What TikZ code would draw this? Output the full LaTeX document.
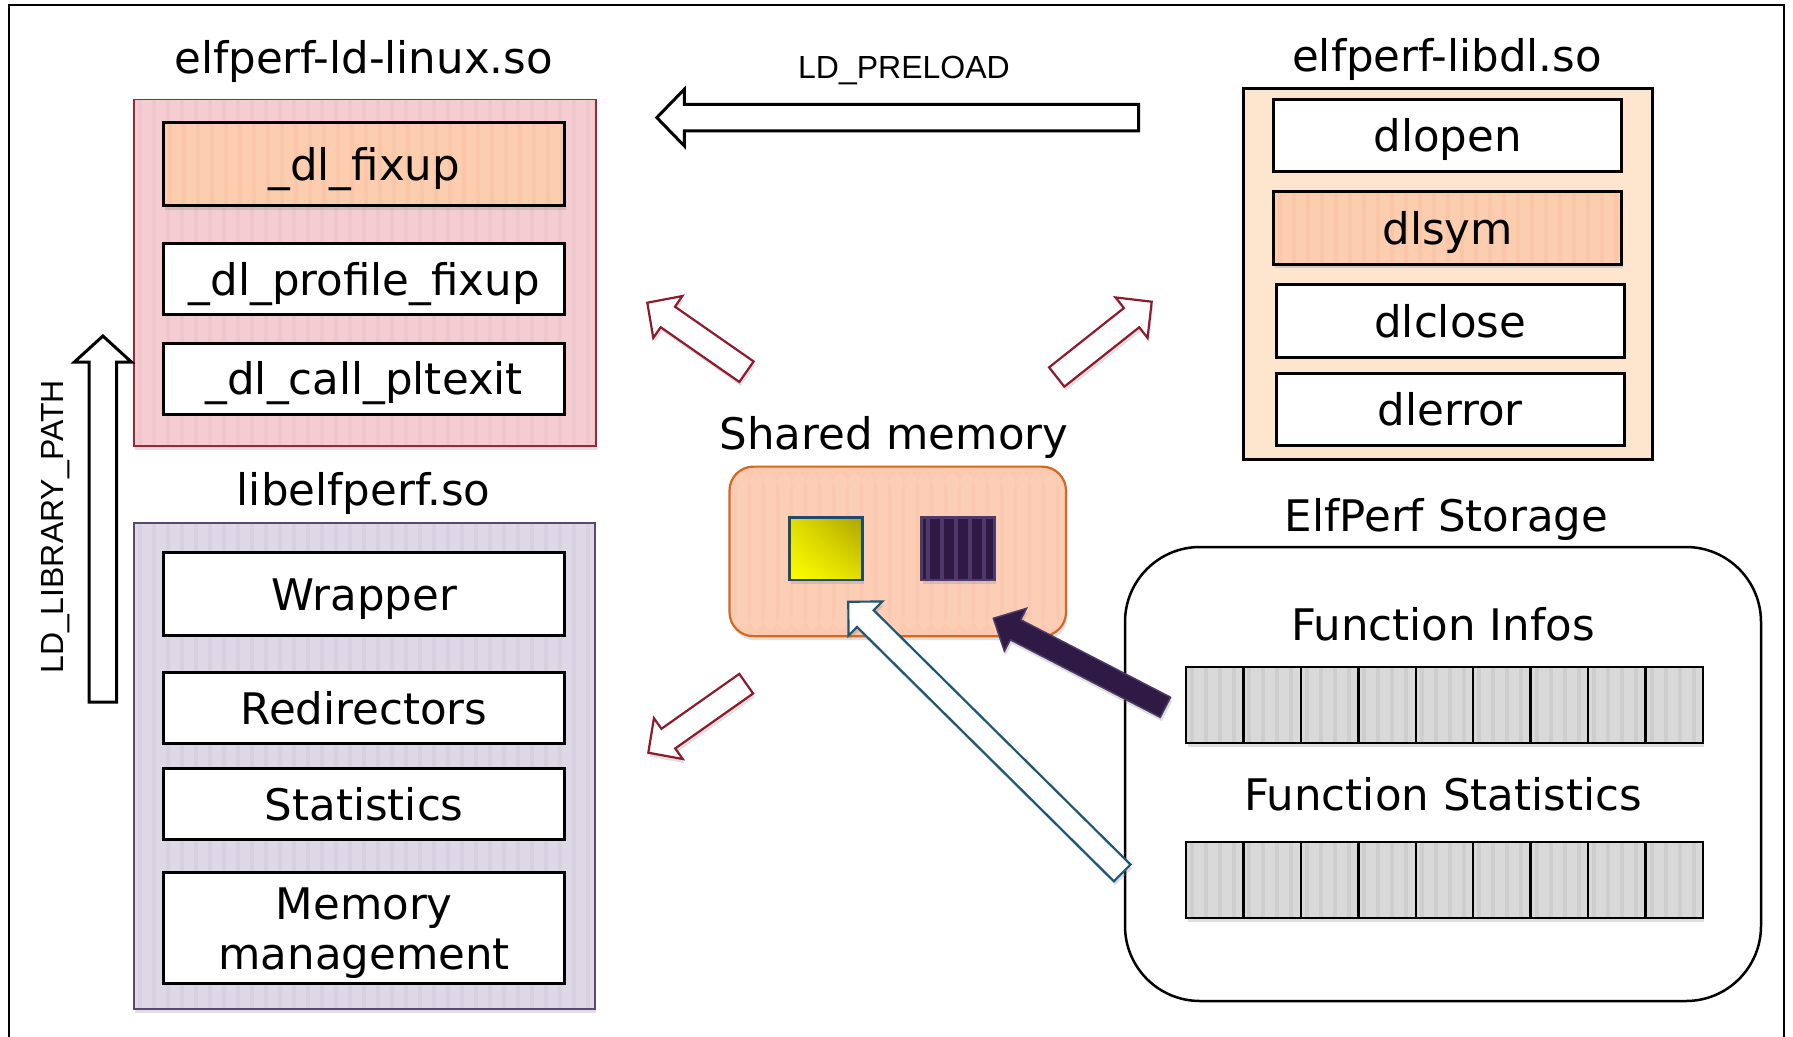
\documentclass[tikz,border=0pt]{standalone}
\usepackage{fontspec}
\setmainfont{DejaVu Sans}
\newfontfamily\labfont{Liberation Sans}
\usetikzlibrary{calc,shadows,shadings}

\definecolor{redfill}{HTML}{F3CDD2}
\definecolor{redstripe}{HTML}{EFC6CC}
\definecolor{redborder}{HTML}{9A2636}
\definecolor{peach}{HTML}{FCCDAF}
\definecolor{peachstripe}{HTML}{F9C7A8}
\definecolor{purfill}{HTML}{DED7E5}
\definecolor{purstripe}{HTML}{D8D0E1}
\definecolor{purborder}{HTML}{5A4870}
\definecolor{libdlfill}{HTML}{FDE5CE}
\definecolor{shmfill}{HTML}{FDCEB6}
\definecolor{shmstripe}{HTML}{FBC9B0}
\definecolor{shmborder}{HTML}{D2691E}
\definecolor{darkpur}{HTML}{2E1A45}
\definecolor{purline}{HTML}{4E3A68}
\definecolor{cellfill}{HTML}{D9D9D9}
\definecolor{cellstripe}{HTML}{CECECE}
\definecolor{arrowred}{HTML}{8C1C2C}
\definecolor{arrowblue}{HTML}{1E5674}
\definecolor{sqborder}{HTML}{1F4A6E}
\definecolor{yelA}{HTML}{FFFF00}
\definecolor{yelB}{HTML}{E2DE00}
\definecolor{yelC}{HTML}{ABA500}

% block arrow: style, tail, tip, half shaft width, half head width, head length
\newcommand{\blockarrow}[6]{%
  \coordinate (tmpB) at ($(#3)!#6!(#2)$);
  \path[#1] ($(#2)!#4!90:(#3)$) -- ($(tmpB)!#4!90:(#3)$) -- ($(tmpB)!#5!90:(#3)$) -- (#3)
    -- ($(tmpB)!#5!-90:(#3)$) -- ($(tmpB)!#4!-90:(#3)$) -- ($(#2)!#4!-90:(#3)$) -- cycle;}

\tikzset{
  every node/.style={inner sep=0pt, outer sep=0pt},
  shd/.style={drop shadow={shadow xshift=1.5pt, shadow yshift=-4pt, opacity=0.25}},
  vstripes/.style={path picture={\foreach \k in {0,...,41}{\fill[#1] ([xshift=\k*14pt+4pt]path picture bounding box.south west) rectangle ([xshift=\k*14pt+8pt]path picture bounding box.north west);}}},
  funcbase/.style={draw=black, line width=3pt, fill=white, font=\fontsize{43.5}{48}\selectfont, minimum width=401.4pt},
  func/.style={funcbase, text height=43pt, text depth=10.5pt},
  dlfunc/.style={func, minimum width=348pt, minimum height=72.5pt},
  title/.style={anchor=base, font=\fontsize{43.5}{52}\selectfont},
  ldlabel/.style={anchor=base, font=\labfont\fontsize{32}{38}\selectfont},
  cell/.style={draw=black, line width=2.5pt, fill=cellfill, vstripes=cellstripe, shd, minimum width=57.44pt, minimum height=76pt},
  outlinearrow/.style={fill=white, draw=#1, line width=2.2pt, shd, line join=miter},
  ldarrow/.style={fill=white, draw=black, line width=3pt, line join=miter},
}

\begin{document}
\begin{tikzpicture}[x=1pt, y=-1pt]
\useasboundingbox (0,0) rectangle (1793,1036);
% outer frame
\draw[line width=2.5pt] (9,1060) -- (9,5) -- (1784,5) -- (1784,1060);

% ---------- elfperf-ld-linux.so ----------
\node[title] (t-ldlinux) at (363.6,73) {elfperf-ld-linux.so};
\node[draw=redborder, line width=1.8pt, fill=redfill, vstripes=redstripe, shd,
      minimum width=462pt, minimum height=346.5pt] (ldlinux) at (364.8,272.75) {};
\node[func, fill=peach, vstripes=peachstripe, shd, minimum height=83.4pt] (fixup) at (364.2,164.1) {\_dl\_fixup};
\node[func, minimum height=70.9pt] (proffix) at (364.2,279) {\_dl\_profile\_fixup};
\node[func, minimum height=71pt] (pltexit) at (364.2,378.5) {\_dl\_call\_pltexit};

% ---------- libelfperf.so ----------
\node[title] (t-libelf) at (363.6,505) {libelfperf.so};
\node[draw=purborder, line width=1.8pt, fill=purfill, vstripes=purstripe, shd,
      minimum width=460.8pt, minimum height=486pt] (libelf) at (364.2,765.6) {};
\node[func, minimum height=83.5pt] (wrap) at (364.2,594) {Wrapper};
\node[func, minimum height=71pt] (redir) at (364.2,707.9) {Redirectors};
\node[func, minimum height=71pt] (stats) at (364.2,803.9) {Statistics};
\node[funcbase, minimum height=111pt,
      label={[font=\fontsize{43.5}{50}\selectfont, align=center, yshift=-5pt]center:{Memory\\management}}]
      (mem) at (364.2,928) {};

% ---------- elfperf-libdl.so ----------
\node[title] (t-libdl) at (1447,71) {elfperf-libdl.so};
\node[draw=black, line width=2.5pt, fill=libdlfill,
      minimum width=408.8pt, minimum height=371pt] (libdl) at (1447.9,273.8) {};
\node[dlfunc] (dlopen) at (1447.7,135.4) {dlopen};
\node[dlfunc, fill=peach, vstripes=peachstripe, shd] (dlsym) at (1447.7,227.9) {dlsym};
\node[dlfunc] (dlclose) at (1450.2,321.2) {dlclose};
\node[dlfunc] (dlerror) at (1450.2,409.5) {dlerror};

% ---------- Shared memory ----------
\node[title] (t-shm) at (894,449) {Shared memory};
\node[draw=shmborder, line width=2.2pt, fill=shmfill, vstripes=shmstripe, shd, rounded corners=24pt,
      minimum width=336.5pt, minimum height=169.6pt] (shm) at (897.75,551.4) {};
\node[draw=sqborder, line width=2.5pt, shd, lower left=yelA, upper left=yelB, lower right=yelB, upper right=yelC,
      minimum width=73pt, minimum height=62.3pt] (sqyellow) at (825.8,548.85) {};
\node[draw=purline, line width=2.5pt, fill=darkpur, vstripes=purline, shd,
      minimum width=72.6pt, minimum height=62.3pt] (sqpurple) at (958,548.85) {};

% ---------- ElfPerf Storage ----------
\node[title] (t-storage) at (1446.5,531) {ElfPerf Storage};
\node[draw=black, line width=2.5pt, fill=white, rounded corners=75pt,
      minimum width=636pt, minimum height=454pt] (storage) at (1443,774) {};
\node[title] (t-infos) at (1443,640) {Function Infos};
\node[title] (t-fstats) at (1443,810) {Function Statistics};
\foreach \i in {1,...,9}{
  \node[cell] (info\i) at ({1186+(\i-0.5)*57.44},705) {};
  \node[cell] (fst\i) at ({1186+(\i-0.5)*57.44},880) {};
}

% ---------- LD arrows ----------
\coordinate (pre-tail) at (1138.6,117.6);
\coordinate (pre-tip) at (656.8,117.6);
\blockarrow{ldarrow}{pre-tail}{pre-tip}{13.3pt}{28.3pt}{27.5pt}
\node[ldlabel] (t-preload) at (904,78) {LD\_PRELOAD};

\coordinate (lib-tail) at (102.9,702);
\coordinate (lib-tip) at (102.9,336);
\blockarrow{ldarrow}{lib-tail}{lib-tip}{13.7pt}{28.5pt}{26pt}
\node[ldlabel, rotate=90] (t-libpath) at (63.5,527) {LD\_LIBRARY\_PATH};

% ---------- red outline arrows ----------
\coordinate (ul-tail) at (746.5,371.7);
\coordinate (ul-tip) at (647.3,302.7);
\blockarrow{outlinearrow=arrowred}{ul-tail}{ul-tip}{12.5pt}{25.5pt}{25pt}
\coordinate (ur-tail) at (1056.7,377);
\coordinate (ur-tip) at (1151.7,301.7);
\blockarrow{outlinearrow=arrowred}{ur-tail}{ur-tip}{12.3pt}{25.8pt}{25.7pt}
\coordinate (dl-tail) at (746.2,683.7);
\coordinate (dl-tip) at (648.3,752.7);
\blockarrow{outlinearrow=arrowred}{dl-tail}{dl-tip}{12pt}{25pt}{24.5pt}

% ---------- storage -> shared memory ----------
\coordinate (bl-tail) at (1122.2,872.9);
\coordinate (bl-tip) at (848.3,601.7);
\blockarrow{outlinearrow=arrowblue}{bl-tail}{bl-tip}{11.8pt}{24pt}{24pt}
\coordinate (pu-tail) at (1165.4,707.3);
\coordinate (pu-tip) at (993.3,618.3);
\blockarrow{fill=darkpur, draw=purline, line width=1.5pt, shd}{pu-tail}{pu-tip}{11.3pt}{24.2pt}{25pt}
\end{tikzpicture}
\end{document}
